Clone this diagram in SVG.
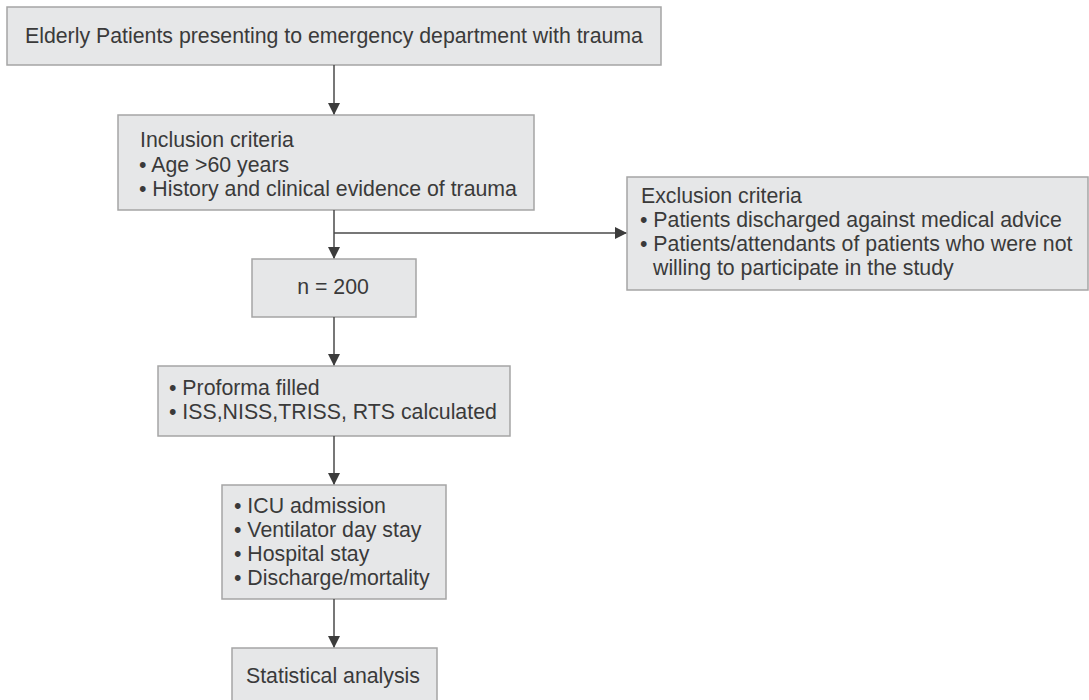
<svg xmlns="http://www.w3.org/2000/svg" width="1089" height="700" viewBox="0 0 1089 700">
<defs>
<marker id="ah" markerWidth="12" markerHeight="12" refX="11" refY="6" orient="auto" markerUnits="userSpaceOnUse">
<path d="M0,0 L12,6 L0,12 Z" fill="#3c3c3c"/>
</marker>
</defs>
<style>
.box{fill:#e6e7e8;stroke:#a5a5a5;stroke-width:1.5}
.t{font-family:"Liberation Sans",Arial,sans-serif;font-size:21.3px;fill:#3a3a3a}
.c{stroke:#4a4a4a;stroke-width:1.5;fill:none}
</style>
<rect width="1089" height="700" fill="#ffffff"/>
<g id="n1">
<rect class="box" x="7" y="7" width="654" height="58"/>
<text class="t" x="25" y="43">Elderly Patients presenting to emergency department with trauma</text>
</g>
<g id="n2">
<rect class="box" x="118" y="115" width="416" height="95"/>
<text class="t" x="140" y="147">Inclusion criteria</text>
<text class="t" x="139" y="172">• Age &gt;60 years</text>
<text class="t" x="139" y="196">• History and clinical evidence of trauma</text>
</g>
<g id="n3">
<rect class="box" x="627" y="177" width="461" height="113"/>
<text class="t" x="641" y="203">Exclusion criteria</text>
<text class="t" x="640" y="227">• Patients discharged against medical advice</text>
<text class="t" x="640" y="251">• Patients/attendants of patients who were not</text>
<text class="t" x="653" y="275">willing to participate in the study</text>
</g>
<g id="n4">
<rect class="box" x="252" y="259" width="164" height="58"/>
<text class="t" x="333" y="294" text-anchor="middle">n = 200</text>
</g>
<g id="n5">
<rect class="box" x="158" y="366" width="352" height="70"/>
<text class="t" x="169" y="395">• Proforma filled</text>
<text class="t" x="169" y="419">• ISS,NISS,TRISS, RTS calculated</text>
</g>
<g id="n6">
<rect class="box" x="222" y="485" width="224" height="114"/>
<text class="t" x="234" y="513">• ICU admission</text>
<text class="t" x="234" y="537">• Ventilator day stay</text>
<text class="t" x="234" y="561">• Hospital stay</text>
<text class="t" x="234" y="585">• Discharge/mortality</text>
</g>
<g id="n7">
<rect class="box" x="232" y="648" width="205" height="60"/>
<text class="t" x="246" y="683">Statistical analysis</text>
</g>
<g id="connectors">
<line class="c" x1="334" y1="65" x2="334" y2="114" marker-end="url(#ah)"/>
<line class="c" x1="334" y1="210" x2="334" y2="258" marker-end="url(#ah)"/>
<line class="c" x1="334" y1="233" x2="626" y2="233" marker-end="url(#ah)"/>
<line class="c" x1="334" y1="317" x2="334" y2="365" marker-end="url(#ah)"/>
<line class="c" x1="334" y1="436" x2="334" y2="484" marker-end="url(#ah)"/>
<line class="c" x1="334" y1="599" x2="334" y2="647" marker-end="url(#ah)"/>
</g>
</svg>
